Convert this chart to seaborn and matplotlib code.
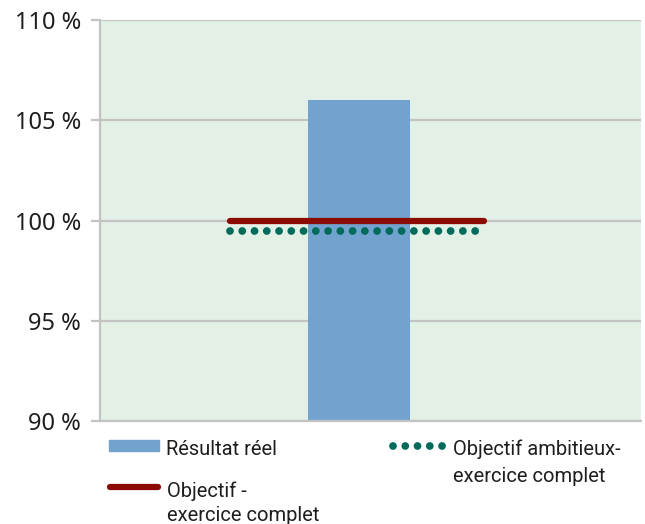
import matplotlib
matplotlib.use("Agg")
import matplotlib.pyplot as plt
from matplotlib.lines import Line2D
from matplotlib.patches import Rectangle
import seaborn as sns
import pandas as pd

# Values shown on the chart (percent)
categories = ["Résultat réel"]
resultat_reel = [106.0]
objectif = 100.0
objectif_ambitieux = 99.5
y_ticks = [90, 95, 100, 105, 110]
y_tick_labels = ["90 %", "95 %", "100 %", "105 %", "110 %"]

bar_color = "#72A2CE"
red = "#8B0A02"
green = "#006B5B"
grid_gray = "#C3C3C3"
bg = "#E2F0E6"
text_color = "#1E1E1E"

sns.set_style("whitegrid", {
    "axes.facecolor": bg,
    "grid.color": grid_gray,
    "axes.edgecolor": grid_gray,
})
plt.rcParams["font.family"] = ["Noto Sans", "DejaVu Sans"]

fig = plt.figure(figsize=(6.45, 5.24), dpi=100)
ax = fig.add_axes([100 / 645, 1 - 421 / 524, 541 / 645, 401 / 524])

df = pd.DataFrame({"cat": categories, "val": resultat_reel})
sns.barplot(data=df, x="cat", y="val", color=bar_color, saturation=1,
            width=0.8, linewidth=0, ax=ax, zorder=2)

dot_lw = 5.6
dots = (0, (0.001, 1.575))
ax.plot([-1.01, 0.98], [objectif, objectif], color=red, lw=4.5,
        solid_capstyle="round", zorder=4)
ax.plot([-1.01, 0.935], [objectif_ambitieux, objectif_ambitieux],
        color=green, lw=dot_lw, linestyle=dots,
        dash_capstyle="round", zorder=5)

ax.set_xlim(-2.03, 2.21)
ax.set_ylim(90, 110)
ax.set_yticks(y_ticks)
ax.set_yticklabels(y_tick_labels, fontsize=17, color=text_color)
ax.set_xticks([])
ax.set_xlabel("")
ax.set_ylabel("")
ax.grid(axis="y", color=grid_gray, lw=1.6, zorder=0)
ax.grid(axis="x", visible=False)
ax.set_axisbelow(True)
for side in ["top", "right"]:
    ax.spines[side].set_visible(False)
for side in ["left", "bottom"]:
    ax.spines[side].set_color(grid_gray)
    ax.spines[side].set_linewidth(1.6)
ax.tick_params(axis="y", length=6.5, width=1.6, color=grid_gray, pad=7, left=True)

# Legend drawn below the plot area in figure pixels
W, H = 645, 524
def fx(px):
    return px / W
def fy(py):
    return 1 - py / H

legend_font = ["Roboto", "DejaVu Sans"]
fs = 14.5

fig.add_artist(Rectangle((fx(109), fy(451)), 50 / W, 11 / H,
                         transform=fig.transFigure, color=bar_color))
fig.text(fx(166), fy(455), "Résultat réel", fontsize=fs, family=legend_font,
         color=text_color, ha="left", va="baseline")

fig.add_artist(Line2D([fx(110), fx(158)], [fy(487), fy(487)],
                      transform=fig.transFigure, color=red, lw=4.5,
                      solid_capstyle="round"))
fig.text(fx(167), fy(497), "Objectif -", fontsize=fs, family=legend_font,
         color=text_color, ha="left", va="baseline")
fig.text(fx(167), fy(521), "exercice complet", fontsize=fs, family=legend_font,
         color=text_color, ha="left", va="baseline")

fig.add_artist(Line2D([fx(393), fx(444)], [fy(446), fy(446)],
                      transform=fig.transFigure, color=green, lw=dot_lw,
                      linestyle=dots, dash_capstyle="round"))
fig.text(fx(453), fy(455), "Objectif ambitieux-", fontsize=fs, family=legend_font,
         color=text_color, ha="left", va="baseline")
fig.text(fx(453), fy(482), "exercice complet", fontsize=fs, family=legend_font,
         color=text_color, ha="left", va="baseline")

fig.savefig("out.png", dpi=100)
